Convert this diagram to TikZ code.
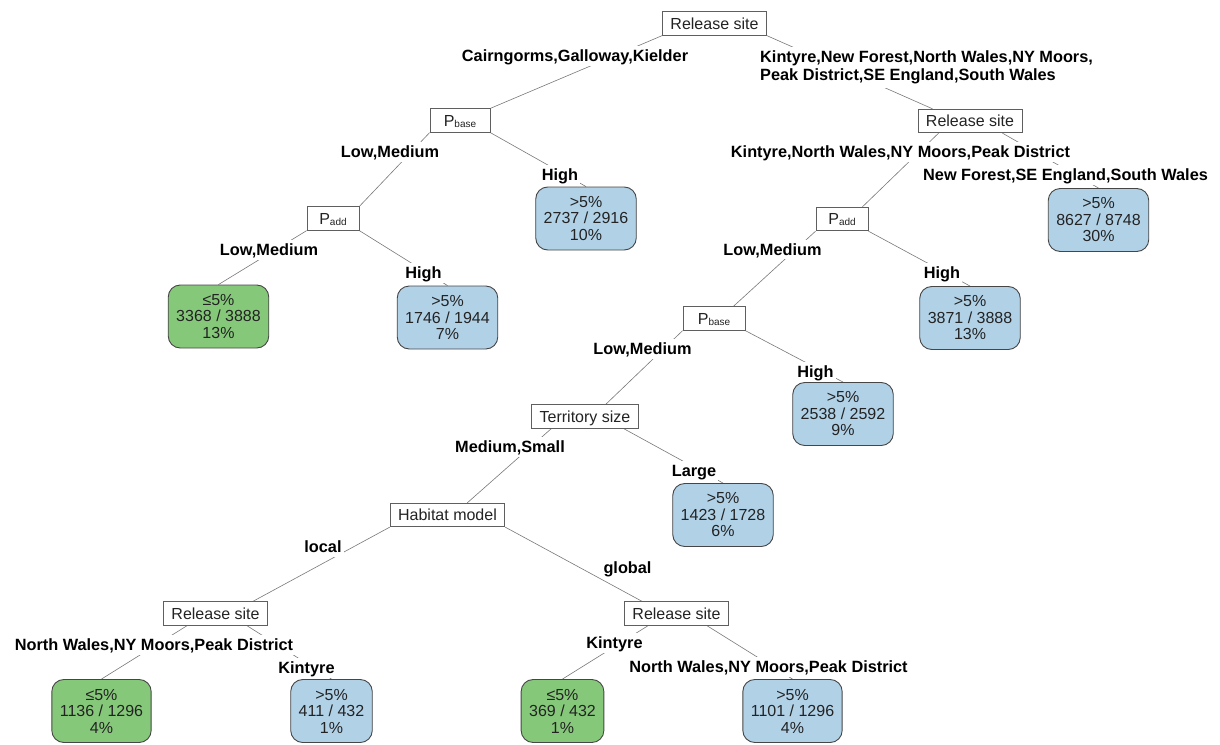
\documentclass[tikz,border=0pt]{standalone}
\usepackage{fontspec}
\setmainfont{Liberation Sans}
\pgfdeclarelayer{background}
\pgfsetlayers{background,main}
\definecolor{leafgreen}{RGB}{134,200,122}
\definecolor{leafblue}{RGB}{177,209,231}
\definecolor{branchgray}{RGB}{120,120,120}
\definecolor{splitborder}{RGB}{95,95,95}
\definecolor{leafborder}{RGB}{70,70,70}
\definecolor{textdark}{RGB}{35,35,35}
\tikzset{
  splitbox/.style={draw=splitborder, line width=0.8pt, fill=white,
    font=\fontsize{16}{16}\selectfont, text=textdark,
    text height=11.7pt, text depth=0pt, minimum height=23.5pt,
    inner xsep=8pt, inner ysep=0pt},
  leafbox/.style={draw=leafborder, line width=0.9pt, rounded corners=12pt,
    align=center, font=\fontsize{16}{16.5}\selectfont, text=textdark,
    minimum height=63pt, inner xsep=8pt, inner ysep=2pt},
  greenleaf/.style={leafbox, fill=leafgreen},
  blueleaf/.style={leafbox, fill=leafblue},
  labbase/.style={fill=white, font=\bfseries\fontsize{16.3}{18.5}\selectfont,
    text=black, inner xsep=2pt, inner ysep=4pt},
  lab/.style={labbase, text height=11.7pt, text depth=0pt},
  branch/.style={draw=branchgray, line width=0.6pt},
}
\newcommand{\psub}[1]{P\raisebox{-0.8pt}{\fontsize{10}{10}\selectfont #1}}
\begin{document}
\begin{tikzpicture}[x=1pt,y=-1pt]
\useasboundingbox (0,0) rectangle (1220,744);

% split nodes
\node[splitbox] (root) at (714.5,23.5) {Release site};
\node[splitbox, minimum width=60pt] (pb1) at (460,120.5) {\psub{base}};
\node[splitbox] (rs2) at (970,121) {Release site};
\node[splitbox, minimum width=52pt] (pa1) at (333,218.5) {\psub{add}};
\node[splitbox, minimum width=52pt] (pa2) at (842,219) {\psub{add}};
\node[splitbox, minimum width=62pt] (pb2) at (714,318.5) {\psub{base}};
\node[splitbox] (terr) at (585,416.5) {Territory size};
\node[splitbox] (hab) at (447.5,515) {Habitat model};
\node[splitbox] (rsll) at (215.5,613.5) {Release site};
\node[splitbox] (rslr) at (676.5,613.5) {Release site};

% leaves
\node[blueleaf] (l2737) at (586,218.5) {>5\%\\2737 / 2916\\10\%};
\node[blueleaf] (l8627) at (1098.5,220) {>5\%\\8627 / 8748\\30\%};
\node[greenleaf] (l3368) at (218.5,316.5) {≤5\%\\3368 / 3888\\13\%};
\node[blueleaf] (l1746) at (447.5,317.5) {>5\%\\1746 / 1944\\7\%};
\node[blueleaf] (l3871) at (970,318) {>5\%\\3871 / 3888\\13\%};
\node[blueleaf] (l2538) at (843,414) {>5\%\\2538 / 2592\\9\%};
\node[blueleaf] (l1423) at (723,515) {>5\%\\1423 / 1728\\6\%};
\node[greenleaf] (l1136) at (101.5,711) {≤5\%\\1136 / 1296\\4\%};
\node[blueleaf] (l411) at (331.5,711) {>5\%\\411 / 432\\1\%};
\node[greenleaf] (l369) at (562.5,711) {≤5\%\\369 / 432\\1\%};
\node[blueleaf] (l1101) at (792.5,711) {>5\%\\1101 / 1296\\4\%};

% split labels
\node[lab] (lrootL) at (575,56) {Cairngorms,Galloway,Kielder};
\node[labbase, align=left, anchor=west] (lrootR) at (758,67.5)
  {Kintyre,New Forest,North Wales,NY Moors,\\Peak District,SE England,South Wales};
\node[lab] (lpb1L) at (390,152) {Low,Medium};
\node[lab] (lpb1R) at (560,175) {High};
\node[lab] (lrs2L) at (900.5,152) {Kintyre,North Wales,NY Moors,Peak District};
\node[lab] (lrs2R) at (1065.5,175) {New Forest,SE England,South Wales};
\node[lab] (lpa1L) at (269,250) {Low,Medium};
\node[lab] (lpa1R) at (423.5,273) {High};
\node[lab] (lpa2L) at (772.5,249.5) {Low,Medium};
\node[lab] (lpa2R) at (942,273) {High};
\node[lab] (lpb2L) at (642.5,349) {Low,Medium};
\node[lab] (lpb2R) at (815.5,372) {High};
\node[lab] (lterrL) at (510,447) {Medium,Small};
\node[lab] (lterrR) at (694,471) {Large};
\node[lab] (lhabL) at (323,547) {local};
\node[lab] (lhabR) at (627.5,568) {global};
\node[lab] (lrsllL) at (154,645) {North Wales,NY Moors,Peak District};
\node[lab] (lrsllR) at (306.5,668) {Kintyre};
\node[lab] (lrslrL) at (614.5,643) {Kintyre};
\node[lab] (lrslrR) at (768.5,667) {North Wales,NY Moors,Peak District};

% branches, behind boxes and labels
\begin{pgfonlayer}{background}
\draw[branch] (root.south west) -- (pb1.north east);
\draw[branch] (root.south east) -- ([xshift=15pt]rs2.north west);
\draw[branch] (pb1.south east) -- (l2737.north);
\draw[branch] (pb1.south west) -- (pa1.north east);
\draw[branch] (pa1.south west) -- (l3368.north);
\draw[branch] (pa1.south east) -- (l1746.north);
\draw[branch] ([xshift=21pt]rs2.south west) -- ([xshift=-6pt]pa2.north east);
\draw[branch] ([xshift=-20pt]rs2.south east) -- (l8627.north);
\draw[branch] (pa2.south west) -- ([xshift=-12pt]pb2.north east);
\draw[branch] (pa2.south east) -- (l3871.north);
\draw[branch] (pb2.south west) -- ([xshift=-33pt]terr.north east);
\draw[branch] (pb2.south east) -- (l2538.north);
\draw[branch] ([xshift=20pt]terr.south west) -- ([xshift=-38pt]hab.north east);
\draw[branch] ([xshift=-15pt]terr.south east) -- (l1423.north);
\draw[branch] (hab.south west) -- ([xshift=-15pt]rsll.north east);
\draw[branch] (hab.south east) -- ([xshift=18pt]rslr.north west);
\draw[branch] ([xshift=24pt]rsll.south west) -- (l1136.north);
\draw[branch] ([xshift=-21pt]rsll.south east) -- (l411.north);
\draw[branch] ([xshift=24pt]rslr.south west) -- (l369.north);
\draw[branch] ([xshift=-22pt]rslr.south east) -- (l1101.north);
\end{pgfonlayer}
\end{tikzpicture}
\end{document}
